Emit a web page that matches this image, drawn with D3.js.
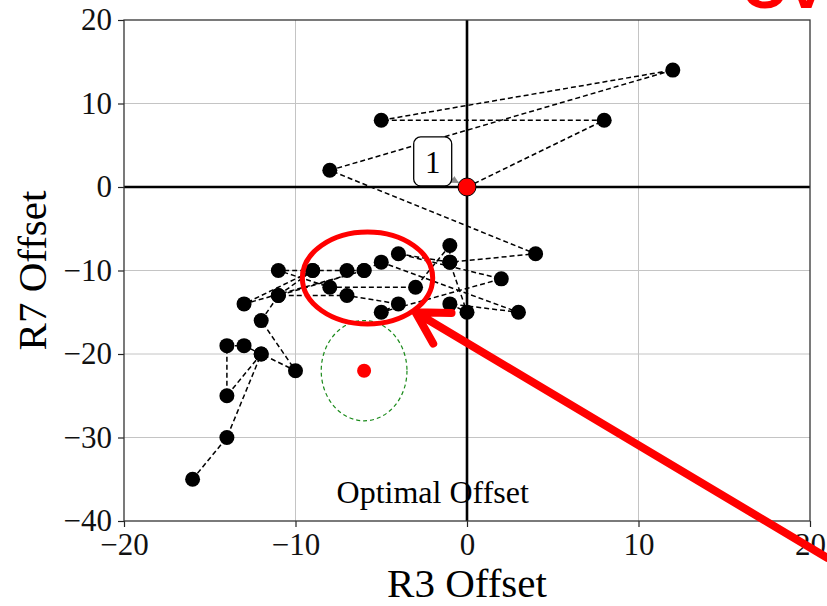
<!DOCTYPE html>
<html>
<head>
<meta charset="utf-8">
<script src="https://cdn.jsdelivr.net/npm/d3@7"></script>
<style>
  body { margin: 0; background: #fff; }
  svg text { font-family: 'Liberation Serif', 'Times New Roman', serif; }
</style>
</head>
<body>
<div class="chart"></div>
<script>
const outerWidth = 827;
const outerHeight = 606;
const plot = {left: 124, right: 810, top: 20, bottom: 521};

// search trajectory, in visiting order
const r3Path = [0, 8, -5, 12, -8, 4, -1, -4, 2, -5, -4, -7, -11, -9, -7, -6, -5, 3, -1, 0, -1, -1, -3, -8, -11, -9, -13, -6, -11, -12, -10, -12, -14, -14, -13, -12, -14, -16];
const r7Path = [0, 8, 8, 14, 2, -8, -9, -8, -11, -15, -14, -13, -13, -10, -10, -10, -9, -15, -14, -15, -9, -7, -12, -12, -10, -10, -14, -10, -13, -16, -22, -20, -25, -19, -19, -20, -30, -35];

const xTicks = [-20, -10, 0, 10, 20];
const yTicks = [-40, -30, -20, -10, 0, 10, 20];

const optimalPoint = [-6, -22];
const optimalRegion = [2.5, 6];          // half-width, half-height in offset units
const optimalLabel = [-2, -37.8];
const startLabel = [-2, 3];
const highlight = [-5.8, -10.9, 3.8, 5.5]; // cx, cy, rx, ry
const calloutArrow = [[21, -44.4], [-3, -15]];

const svg = d3.select('.chart').append('svg')
  .attr('width', outerWidth)
  .attr('height', outerHeight);

const x = d3.scaleLinear().domain([-20, 20]).range([plot.left, plot.right]);
const y = d3.scaleLinear().domain([-40, 20]).range([plot.bottom, plot.top]);

const fmt = d => d < 0 ? '\u2212' + Math.abs(d) : String(d);

// grid
svg.append('g').selectAll('line').data(xTicks.slice(1, -1)).join('line')
  .attr('x1', d => x(d)).attr('x2', d => x(d))
  .attr('y1', plot.top).attr('y2', plot.bottom)
  .attr('stroke', '#c4c4c4').attr('stroke-width', 1);
svg.append('g').selectAll('line').data(yTicks.slice(1, -1)).join('line')
  .attr('y1', d => y(d)).attr('y2', d => y(d))
  .attr('x1', plot.left).attr('x2', plot.right)
  .attr('stroke', '#c4c4c4').attr('stroke-width', 1);

// zero lines
svg.append('line')
  .attr('x1', plot.left).attr('x2', plot.right)
  .attr('y1', y(0)).attr('y2', y(0))
  .attr('stroke', '#000').attr('stroke-width', 2.6);
svg.append('line')
  .attr('x1', x(0)).attr('x2', x(0))
  .attr('y1', plot.top).attr('y2', plot.bottom)
  .attr('stroke', '#000').attr('stroke-width', 2.6);

// axes
const gx = svg.append('g')
  .attr('transform', `translate(0, ${plot.bottom})`)
  .call(d3.axisBottom(x).tickValues(xTicks).tickFormat(fmt).tickSize(6).tickPadding(6));
const gy = svg.append('g')
  .attr('transform', `translate(${plot.left}, 0)`)
  .call(d3.axisLeft(y).tickValues(yTicks).tickFormat(fmt).tickSize(6).tickPadding(6));
[gx, gy].forEach(g => {
  g.select('.domain').remove();
  g.selectAll('line').attr('stroke', '#222').attr('stroke-width', 1.2);
  g.selectAll('text').attr('fill', '#111')
    .style('font-family', "'Liberation Serif', serif").style('font-size', '31px');
});

// optimal region
svg.append('ellipse')
  .attr('cx', x(optimalPoint[0])).attr('cy', y(optimalPoint[1]))
  .attr('rx', x(optimalPoint[0] + optimalRegion[0]) - x(optimalPoint[0]))
  .attr('ry', y(optimalPoint[1]) - y(optimalPoint[1] + optimalRegion[1]))
  .attr('fill', 'none').attr('stroke', '#1a8a1a')
  .attr('stroke-width', 1.2).attr('stroke-dasharray', '4,3');
svg.append('circle')
  .attr('cx', x(optimalPoint[0])).attr('cy', y(optimalPoint[1]))
  .attr('r', 7).attr('fill', '#ff0000');

// trajectory
const pts = r3Path.map((d, i) => [d, r7Path[i]]);
svg.append('path')
  .datum(pts)
  .attr('d', d3.line().x(d => x(d[0])).y(d => y(d[1])))
  .attr('fill', 'none').attr('stroke', '#000')
  .attr('stroke-width', 1.5).attr('stroke-dasharray', '5,3');

svg.append('g').selectAll('circle').data(pts.slice(1)).join('circle')
  .attr('cx', d => x(d[0])).attr('cy', d => y(d[1]))
  .attr('r', 7.5).attr('fill', '#000');

svg.append('circle')
  .attr('cx', x(pts[0][0])).attr('cy', y(pts[0][1]))
  .attr('r', 9).attr('fill', '#ff0000').attr('stroke', '#000').attr('stroke-width', 1);

// start annotation "1"
svg.append('defs').append('marker')
  .attr('id', 'grey-head').attr('viewBox', '0 0 10 10')
  .attr('refX', 10).attr('refY', 5)
  .attr('markerWidth', 5).attr('markerHeight', 5)
  .attr('orient', 'auto')
  .append('path').attr('d', 'M0,0L10,5L0,10z').attr('fill', '#888');

const bx = x(startLabel[0]), by = y(startLabel[1]);
svg.append('line')
  .attr('x1', bx + 19).attr('y1', by + 17)
  .attr('x2', x(0) - 8).attr('y2', y(0) - 4)
  .attr('stroke', '#888').attr('stroke-width', 1.5)
  .attr('marker-end', 'url(#grey-head)');
svg.append('rect')
  .attr('x', bx - 19).attr('y', by - 25)
  .attr('width', 38).attr('height', 49).attr('rx', 7)
  .attr('fill', '#fff').attr('stroke', '#000').attr('stroke-width', 1.3);
svg.append('text')
  .attr('x', bx).attr('y', by + 11)
  .attr('text-anchor', 'middle')
  .style('font-size', '31px')
  .text('1');

svg.append('text')
  .attr('x', x(optimalLabel[0])).attr('y', y(optimalLabel[1]))
  .attr('text-anchor', 'middle')
  .style('font-size', '32px')
  .text('Optimal Offset');

// spines
svg.append('rect')
  .attr('x', plot.left).attr('y', plot.top)
  .attr('width', plot.right - plot.left).attr('height', plot.bottom - plot.top)
  .attr('fill', 'none').attr('stroke', '#333').attr('stroke-width', 1.3);

// axis labels
svg.append('text')
  .attr('x', (plot.left + plot.right) / 2).attr('y', 597)
  .attr('text-anchor', 'middle')
  .style('font-size', '41px')
  .text('R3 Offset');
svg.append('text')
  .attr('transform', `translate(46, ${(plot.top + plot.bottom) / 2}) rotate(-90)`)
  .attr('text-anchor', 'middle')
  .style('font-size', '41px')
  .text('R7 Offset');

// red call-out on top
svg.append('ellipse')
  .attr('cx', x(highlight[0])).attr('cy', y(highlight[1]))
  .attr('rx', x(highlight[0] + highlight[2]) - x(highlight[0]))
  .attr('ry', y(highlight[1]) - y(highlight[1] + highlight[3]))
  .attr('fill', 'none').attr('stroke', '#ff0000').attr('stroke-width', 5);

const tail = [x(calloutArrow[0][0]), y(calloutArrow[0][1])];
const tip = [x(calloutArrow[1][0]), y(calloutArrow[1][1])];
const ang = Math.atan2(tail[1] - tip[1], tail[0] - tip[0]);
const arm = 36;
const armA = [tip[0] + arm * Math.cos(ang - 0.52), tip[1] + arm * Math.sin(ang - 0.52)];
const armB = [tip[0] + arm * Math.cos(ang + 0.52), tip[1] + arm * Math.sin(ang + 0.52)];
svg.append('path')
  .attr('d', `M${tail}L${tip}M${armA}L${tip}L${armB}`)
  .attr('fill', 'none').attr('stroke', '#ff0000')
  .attr('stroke-width', 8).attr('stroke-linecap', 'round').attr('stroke-linejoin', 'round');

// slide title, cropped by the top edge as in the source
svg.append('text')
  .attr('x', 741).attr('y', 8)
  .style('font-family', "'Liberation Sans', Arial, sans-serif")
  .style('font-weight', 'bold').style('font-size', '62px')
  .attr('fill', '#ff0000')
  .text('Overshoot');
</script>
</body>
</html>
